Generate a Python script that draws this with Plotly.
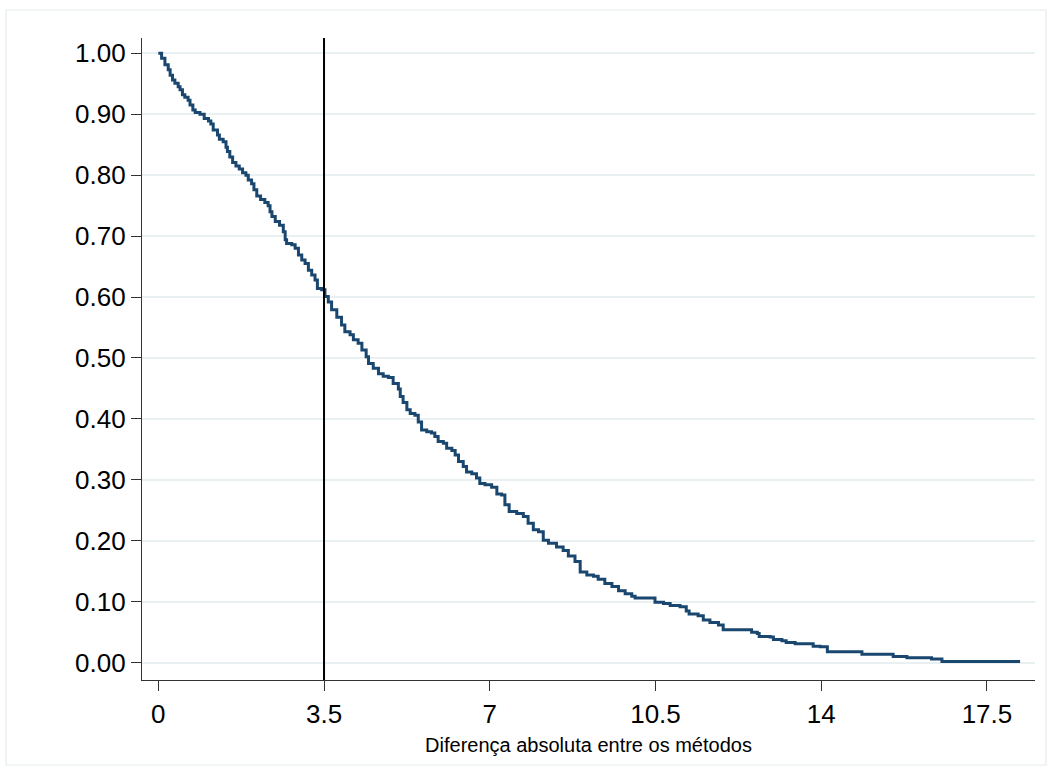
import plotly.graph_objects as go

# Step points of the survival-type curve (x = absolute difference, y = proportion)
diff_x = [0.00, 0.07, 0.14, 0.21, 0.25, 0.30, 0.35, 0.42, 0.46, 0.51, 0.56, 0.63, 0.67, 0.73, 0.78,
          0.88, 0.97, 1.06, 1.11, 1.16, 1.25, 1.29, 1.37, 1.43, 1.46, 1.51, 1.57, 1.64, 1.71, 1.78,
          1.85, 1.90, 1.97, 2.02, 2.08, 2.16, 2.25, 2.32, 2.36, 2.40, 2.47, 2.56, 2.64, 2.68, 2.71,
          2.82, 2.89, 2.96, 3.03, 3.10, 3.17, 3.24, 3.31, 3.36, 3.45, 3.52, 3.59, 3.66, 3.77, 3.87,
          3.94, 4.05, 4.12, 4.22, 4.30, 4.39, 4.44, 4.54, 4.65, 4.75, 4.86, 4.96, 5.07, 5.11, 5.17,
          5.25, 5.32, 5.42, 5.49, 5.56, 5.67, 5.77, 5.84, 5.91, 6.02, 6.09, 6.20, 6.27, 6.34, 6.44,
          6.51, 6.62, 6.72, 6.79, 6.90, 7.04, 7.15, 7.25, 7.32, 7.41, 7.57, 7.71, 7.81, 7.92, 8.03,
          8.13, 8.24, 8.41, 8.55, 8.66, 8.80, 8.91, 9.05, 9.19, 9.29, 9.43, 9.58, 9.72, 9.86, 10.00,
          10.07, 10.42, 10.49, 10.67, 10.81, 11.02, 11.15, 11.21, 11.40, 11.51, 11.65, 11.83, 11.93,
          12.46, 12.53, 12.65, 12.69, 12.92, 12.99, 13.17, 13.26, 13.45, 13.80, 13.83, 13.98, 14.13,
          14.82, 14.86, 15.49, 15.52, 15.81, 16.30, 16.33, 16.51, 16.55, 18.20]
prop_y = [1.000, 0.992, 0.981, 0.973, 0.964, 0.956, 0.951, 0.945, 0.940, 0.932, 0.928, 0.923, 0.915, 0.907, 0.903,
          0.900, 0.893, 0.889, 0.884, 0.874, 0.866, 0.859, 0.855, 0.846, 0.839, 0.830, 0.821, 0.815, 0.810, 0.804,
          0.800, 0.792, 0.786, 0.776, 0.766, 0.760, 0.755, 0.750, 0.740, 0.732, 0.724, 0.718, 0.707, 0.694, 0.688,
          0.686, 0.680, 0.669, 0.661, 0.655, 0.644, 0.636, 0.628, 0.614, 0.612, 0.601, 0.592, 0.579, 0.567, 0.554,
          0.543, 0.538, 0.530, 0.524, 0.513, 0.502, 0.491, 0.483, 0.474, 0.470, 0.468, 0.458, 0.449, 0.437, 0.427,
          0.415, 0.409, 0.406, 0.395, 0.382, 0.379, 0.377, 0.371, 0.363, 0.360, 0.352, 0.348, 0.341, 0.330, 0.322,
          0.313, 0.310, 0.303, 0.294, 0.292, 0.288, 0.277, 0.275, 0.259, 0.248, 0.245, 0.240, 0.229, 0.218, 0.215,
          0.201, 0.196, 0.190, 0.184, 0.175, 0.166, 0.149, 0.144, 0.142, 0.137, 0.130, 0.125, 0.118, 0.113, 0.109,
          0.106, 0.106, 0.099, 0.097, 0.094, 0.092, 0.085, 0.080, 0.077, 0.070, 0.066, 0.062, 0.054,
          0.054, 0.050, 0.048, 0.043, 0.042, 0.038, 0.036, 0.033, 0.031, 0.031, 0.027, 0.026, 0.018,
          0.018, 0.014, 0.014, 0.010, 0.008, 0.008, 0.006, 0.006, 0.002, 0.002]

cutoff = 3.5
x_tick_vals = [0, 3.5, 7, 10.5, 14, 17.5]
x_tick_text = ["0", "3.5", "7", "10.5", "14", "17.5"]
y_tick_vals = [0.0, 0.1, 0.2, 0.3, 0.4, 0.5, 0.6, 0.7, 0.8, 0.9, 1.0]
y_tick_text = ["0.00", "0.10", "0.20", "0.30", "0.40", "0.50", "0.60", "0.70", "0.80", "0.90", "1.00"]
x_title = "Diferença absoluta entre os métodos"

FONT = "Arial, 'Liberation Sans', sans-serif"

fig = go.Figure()
fig.add_trace(go.Scatter(
    x=diff_x, y=prop_y, mode="lines",
    line=dict(color="#1a476f", width=3, shape="hv"),
    showlegend=False, hoverinfo="skip",
))

# vertical reference line
fig.add_shape(type="line", xref="x", yref="paper", x0=cutoff, x1=cutoff, y0=0, y1=1,
              line=dict(color="black", width=2), layer="above")

# outer graph-region border
L, R, T, B = 142, 1035, 38, 680
W, H = 1052, 771
def px_x(p):
    return (p - L) / (R - L)
def px_y(p):
    return (B - p) / (B - T)
fig.add_shape(type="rect", xref="paper", yref="paper",
              x0=px_x(6), x1=px_x(1046), y0=px_y(765), y1=px_y(10),
              line=dict(color="#e4ecee", width=1.2), fillcolor="rgba(0,0,0,0)", layer="below")

fig.update_layout(
    width=W, height=H,
    margin=dict(l=L, r=W - R, t=T, b=H - B, pad=0),
    paper_bgcolor="white", plot_bgcolor="white",
    font=dict(family=FONT, color="black"),
    xaxis=dict(
        range=[-0.344, 18.515],
        tickmode="array", tickvals=x_tick_vals, ticktext=x_tick_text,
        ticks="outside", ticklen=10, tickwidth=1.3, tickcolor="#333333",
        tickfont=dict(size=26, family=FONT, color="black"),
        showline=True, linecolor="#333333", linewidth=1.3, mirror=False,
        showgrid=False, zeroline=False,
        ticklabelstandoff=1,
        title=dict(text=x_title, font=dict(size=20, family=FONT, color="black"), standoff=9),
    ),
    yaxis=dict(
        range=[-0.0284, 1.0251],
        tickmode="array", tickvals=y_tick_vals, ticktext=y_tick_text,
        ticks="outside", ticklen=10, tickwidth=1.3, tickcolor="#333333",
        tickfont=dict(size=26, family=FONT, color="black"),
        showline=True, linecolor="#333333", linewidth=1.3, mirror=False,
        showgrid=True, gridcolor="#e8f0f2", gridwidth=1.6, zeroline=False,
    ),
)

fig.write_html("out.html", config={"displayModeBar": False},
               post_script="document.body.style.margin='0';document.body.style.overflow='hidden';")
